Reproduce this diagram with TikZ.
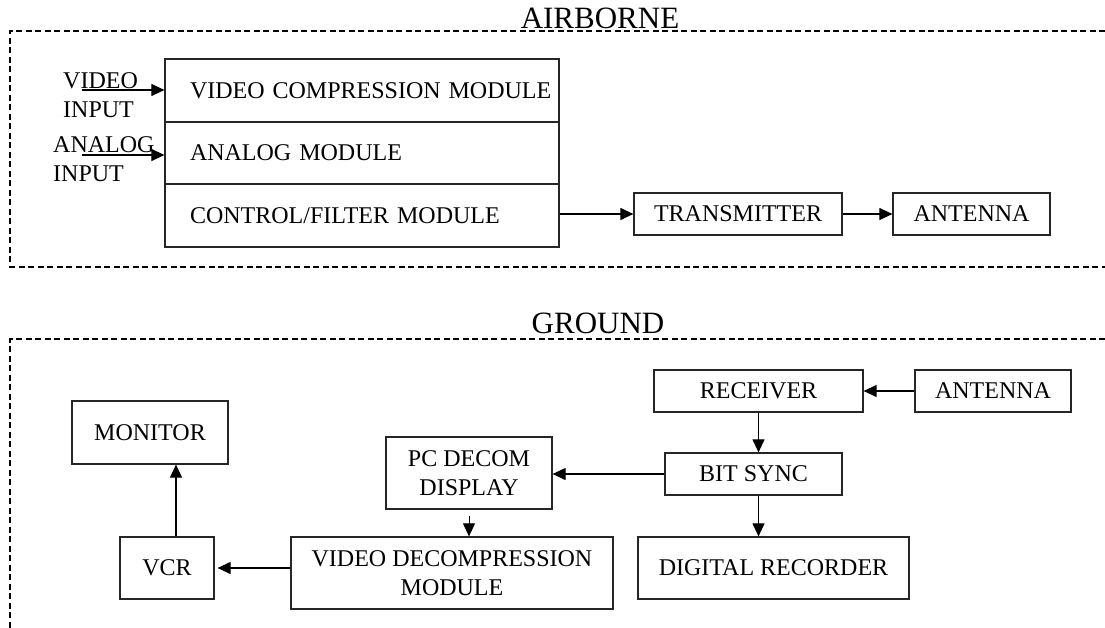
\documentclass[tikz,border=0pt]{standalone}
\usepackage{fontspec}
\setmainfont{Liberation Serif}
\usetikzlibrary{arrows.meta}
\begin{document}
\begin{tikzpicture}[x=1pt,y=-1pt,
  blk/.style={draw=black!85, line width=1.2pt, inner sep=0pt, align=center,
    font=\fontsize{24}{29}\selectfont},
  row/.style={blk, inner xsep=0pt, text width=394pt, align=left},
  lbl/.style={inner sep=0pt, align=left, font=\fontsize{24}{29}\selectfont},
  ttl/.style={inner sep=0pt, font=\fontsize{31}{36}\selectfont},
  frame/.style={line width=1.2pt, dash pattern=on 6pt off 3.5pt},
  arr/.style={line width=1.1pt, -{Triangle[length=13pt,width=12pt]}}]
\useasboundingbox (0,0) rectangle (1105,628);
% frames
\draw[frame] (1105,31) -- (10,31) -- (10,267) -- (1105,267);
\draw[frame] (1105,339) -- (10,339) -- (10,628);
\node[ttl] (tair) at (600,18) {AIRBORNE};
\node[ttl] (tgnd) at (598,323) {GROUND};
% airborne
\node[row, minimum height=63pt] (vcm) at (362,90.5) {\hspace*{25pt}VIDEO COMPRESSION MODULE};
\node[row, minimum height=62pt] (am) at (362,153) {\hspace*{25pt}ANALOG MODULE};
\node[row, minimum height=63pt] (cfm) at (362,215.5) {\hspace*{25pt}CONTROL/FILTER MODULE};
\node[blk, minimum width=208pt, minimum height=42pt] (trans) at (738,214) {TRANSMITTER};
\node[blk, minimum width=157pt, minimum height=42pt] (antA) at (971.5,214) {ANTENNA};
\node[lbl, anchor=west] (vinl) at (63,95) {VIDEO\\INPUT};
\node[lbl, anchor=west] (ainl) at (53,159) {ANALOG\\INPUT};
\coordinate (vin) at (82,90);
\coordinate (ain) at (82,155);
\draw[arr] (vin) -- (vin -| vcm.west);
\draw[arr] (ain) -- (ain -| am.west);
\draw[arr] (cfm.east |- trans.west) -- (trans.west);
\draw[arr] (trans.east) -- (antA.west);
% ground
\node[blk, minimum width=156pt, minimum height=63pt] (mon) at (150,432.5) {MONITOR};
\node[blk, minimum width=166pt, minimum height=72pt] (pcd) at (469,473) {PC DECOM\\DISPLAY};
\node[blk, minimum width=94pt, minimum height=62pt] (vcr) at (167,568) {VCR};
\node[blk, minimum width=322pt, minimum height=72pt] (vdm) at (452,573) {VIDEO DECOMPRESSION\\MODULE};
\node[blk, minimum width=209pt, minimum height=42pt] (recv) at (758.5,391) {RECEIVER};
\node[blk, minimum width=156pt, minimum height=42pt] (antG) at (993,391) {ANTENNA};
\node[blk, minimum width=177pt, minimum height=42pt] (bsync) at (753.5,474) {BIT SYNC};
\node[blk, minimum width=271pt, minimum height=62pt] (drec) at (773.5,568) {DIGITAL RECORDER};
\draw[arr] (antG.west) -- (recv.east);
\draw[arr] (recv.south) -- (recv.south |- bsync.north);
\draw[arr] (recv.south |- bsync.south) -- (recv.south |- drec.north);
\draw[arr] (bsync.west) -- (bsync.west -| pcd.east);
\draw[arr, line width=0.9pt] ([yshift=-6pt]pcd.south) -- (pcd.south |- vdm.north);
\draw[arr] (vdm.west |- vcr.east) -- ([xshift=3pt]vcr.east);
\draw[arr] ([xshift=9pt]vcr.north) -- ([xshift=9pt]vcr.north |- mon.south);
\end{tikzpicture}
\end{document}
